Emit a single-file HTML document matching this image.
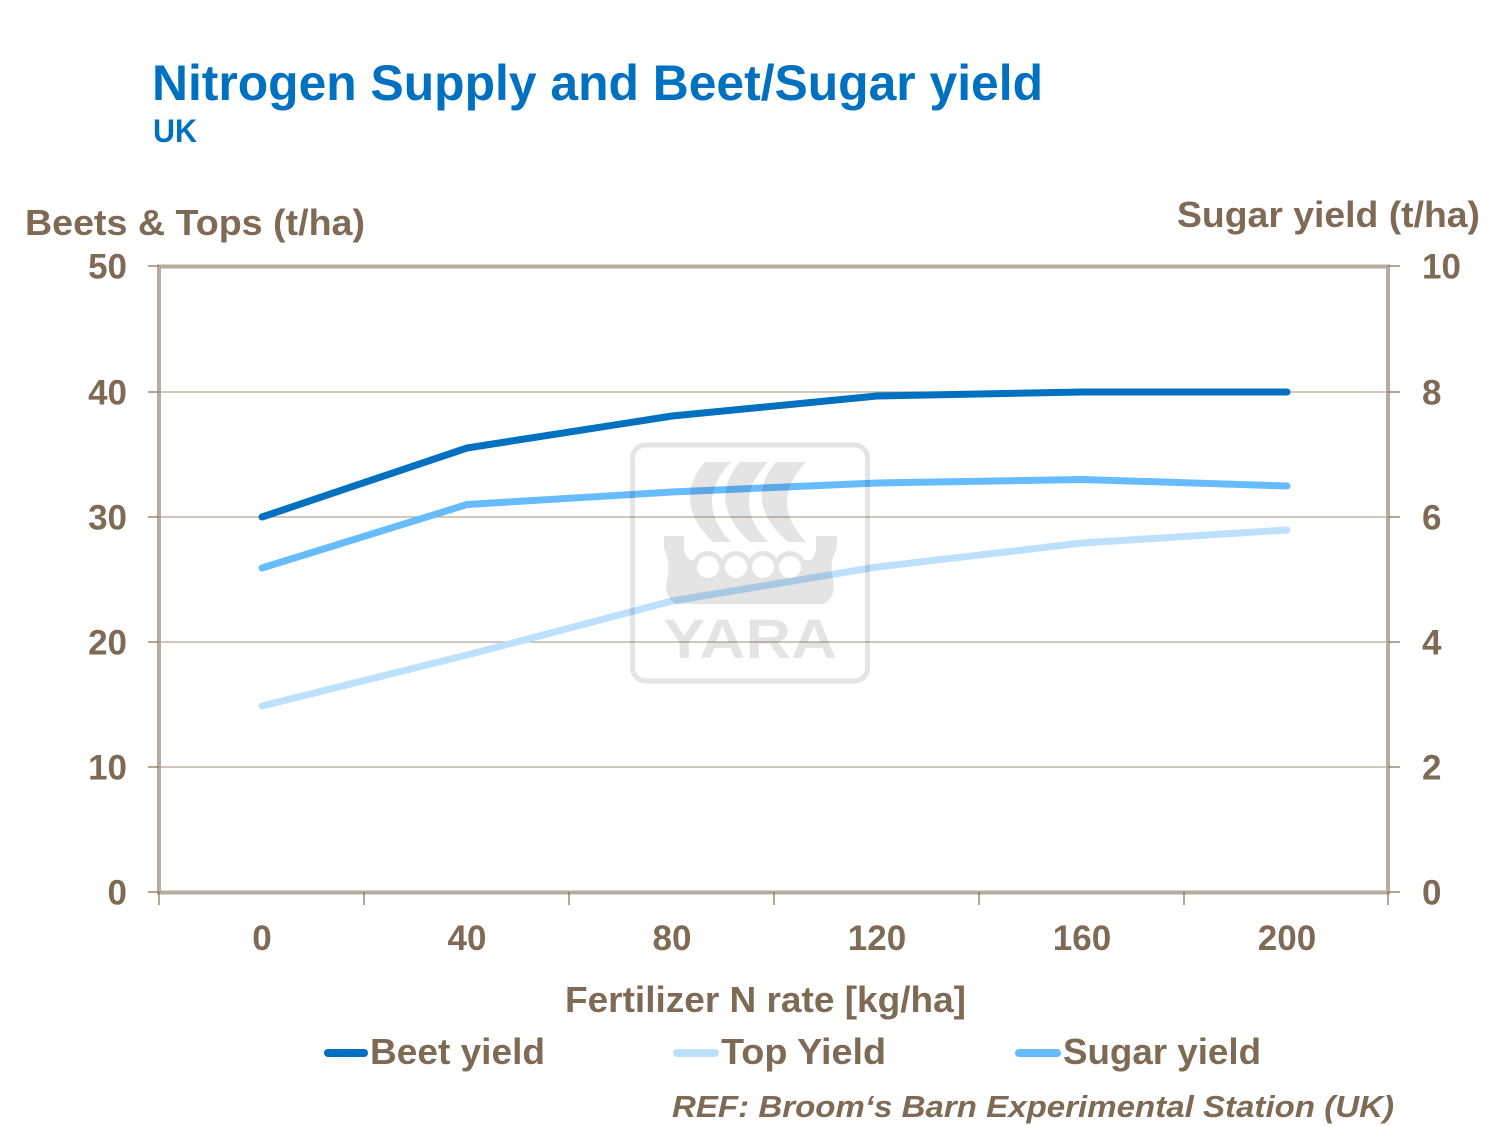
<!DOCTYPE html>
<html>
<head>
<meta charset="utf-8">
<style>
html,body{margin:0;padding:0;background:#fff;}
svg{display:block;}
text{font-family:"Liberation Sans",Arial,sans-serif;font-weight:bold;}
</style>
</head>
<body>
<svg width="1501" height="1126" viewBox="0 0 1501 1126" xmlns="http://www.w3.org/2000/svg">
<rect x="0" y="0" width="1501" height="1126" fill="#fff"/>

<!-- Titles -->
<text x="152" y="100" font-size="50" fill="#0070c0" textLength="891" lengthAdjust="spacingAndGlyphs">Nitrogen Supply and Beet/Sugar yield</text>
<text x="153" y="142" font-size="32" fill="#0070c0" textLength="44" lengthAdjust="spacingAndGlyphs">UK</text>

<!-- Axis titles -->
<text x="25" y="235" font-size="36" fill="#7f6a55" textLength="340" lengthAdjust="spacingAndGlyphs">Beets &amp; Tops (t/ha)</text>
<text x="1177" y="227" font-size="36" fill="#7f6a55" textLength="303" lengthAdjust="spacingAndGlyphs">Sugar yield (t/ha)</text>

<!-- Gridlines -->
<g stroke="#b3a699" stroke-width="1.2">
<line x1="159" y1="392" x2="1388" y2="392"/>
<line x1="159" y1="517" x2="1388" y2="517"/>
<line x1="159" y1="642" x2="1388" y2="642"/>
<line x1="159" y1="767" x2="1388" y2="767"/>
</g>

<!-- Frame -->
<rect x="159" y="266.5" width="1229" height="626" fill="none" stroke="#b8ac9f" stroke-width="4"/>

<!-- Ticks -->
<g stroke="#7f6a55" stroke-width="1.2">
<line x1="148" y1="266" x2="159" y2="266"/>
<line x1="148" y1="392" x2="159" y2="392"/>
<line x1="148" y1="517" x2="159" y2="517"/>
<line x1="148" y1="642" x2="159" y2="642"/>
<line x1="148" y1="767" x2="159" y2="767"/>
<line x1="148" y1="892" x2="159" y2="892"/>
<line x1="1388" y1="266" x2="1400" y2="266"/>
<line x1="1388" y1="392" x2="1400" y2="392"/>
<line x1="1388" y1="517" x2="1400" y2="517"/>
<line x1="1388" y1="642" x2="1400" y2="642"/>
<line x1="1388" y1="767" x2="1400" y2="767"/>
<line x1="1388" y1="892" x2="1400" y2="892"/>
<line x1="159" y1="892" x2="159" y2="905"/>
<line x1="364" y1="892" x2="364" y2="905"/>
<line x1="569" y1="892" x2="569" y2="905"/>
<line x1="774" y1="892" x2="774" y2="905"/>
<line x1="979" y1="892" x2="979" y2="905"/>
<line x1="1184" y1="892" x2="1184" y2="905"/>
<line x1="1388" y1="892" x2="1388" y2="905"/>
</g>

<!-- Left tick labels -->
<g font-size="35" fill="#7f6a55" text-anchor="end">
<text x="127" y="278.5">50</text>
<text x="127" y="404.5">40</text>
<text x="127" y="529.5">30</text>
<text x="127" y="654.5">20</text>
<text x="127" y="779.5">10</text>
<text x="127" y="904.5">0</text>
</g>
<!-- Right tick labels -->
<g font-size="35" fill="#7f6a55" text-anchor="start">
<text x="1422" y="278.5">10</text>
<text x="1422" y="404.5">8</text>
<text x="1422" y="529.5">6</text>
<text x="1422" y="654.5">4</text>
<text x="1422" y="779.5">2</text>
<text x="1422" y="904.5">0</text>
</g>
<!-- X tick labels -->
<g font-size="35" fill="#7f6a55" text-anchor="middle">
<text x="262" y="950">0</text>
<text x="467" y="950">40</text>
<text x="672" y="950">80</text>
<text x="877" y="950">120</text>
<text x="1082" y="950">160</text>
<text x="1287" y="950">200</text>
</g>

<!-- Series -->
<g fill="none" stroke-width="7" stroke-linecap="round" stroke-linejoin="round">
<polyline stroke="#bde0fd" points="262,706 467,655 672,601 877,567 1082,543 1287,530"/>
<polyline stroke="#67bcff" points="262,568 467,504.5 672,492 877,483 1082,479.5 1287,486"/>
<polyline stroke="#0070c0" points="262,517 467,448 672,416 877,396 1082,392 1287,392"/>
</g>

<!-- Watermark logo -->
<g opacity="0.1">
<rect x="632.5" y="445" width="235" height="236" rx="13" ry="13" fill="none" stroke="#000" stroke-width="5"/>
<g fill="#000">
<path d="M705 462 L731 462 Q693 502 731 542 L713 542 Q671 502 705 462 Z"/>
<path d="M740 462 L768 462 Q730 502 768 542 L750 542 Q706 502 740 462 Z"/>
<path d="M776 462 L806 462 Q768 502 806 542 L788 542 Q742 502 776 462 Z"/>
<path d="M664 536 L684 536 L684 546 Q684 556 690 560 L810 560 Q816 556 816 546 L816 536 L837 536 L837 548 Q830 560 832 575 Q838 596 824 604 L676 604 Q662 596 668 575 Q670 560 664 548 Z"/>
<circle cx="708" cy="567" r="16"/>
<circle cx="736" cy="567" r="16"/>
<circle cx="763" cy="567" r="16"/>
<circle cx="790" cy="567" r="16"/>
<text x="663" y="658" font-size="56" textLength="174" lengthAdjust="spacingAndGlyphs">YARA</text>
</g>
</g>
<g fill="#fff">
<circle cx="708" cy="567" r="11"/>
<circle cx="736" cy="567" r="11"/>
<circle cx="763" cy="567" r="11"/>
<circle cx="790" cy="567" r="11"/>
</g>

<!-- X axis title -->
<text x="565" y="1012" font-size="36" fill="#7f6a55" textLength="401" lengthAdjust="spacingAndGlyphs">Fertilizer N rate [kg/ha]</text>

<!-- Legend -->
<g stroke-width="8" stroke-linecap="round">
<line x1="328" y1="1053" x2="364" y2="1053" stroke="#0070c0"/>
<line x1="677" y1="1053" x2="715" y2="1053" stroke="#bde0fd"/>
<line x1="1019" y1="1053" x2="1057" y2="1053" stroke="#67bcff"/>
</g>
<g font-size="36" fill="#7f6a55">
<text x="370" y="1064" textLength="175" lengthAdjust="spacingAndGlyphs">Beet yield</text>
<text x="721" y="1064" textLength="165" lengthAdjust="spacingAndGlyphs">Top Yield</text>
<text x="1063" y="1064" textLength="198" lengthAdjust="spacingAndGlyphs">Sugar yield</text>
</g>

<!-- Reference -->
<text x="672" y="1117" font-size="31" font-style="italic" fill="#7f6a55" textLength="722" lengthAdjust="spacingAndGlyphs">REF: Broom‘s Barn Experimental  Station  (UK)</text>
</svg>
</body>
</html>
